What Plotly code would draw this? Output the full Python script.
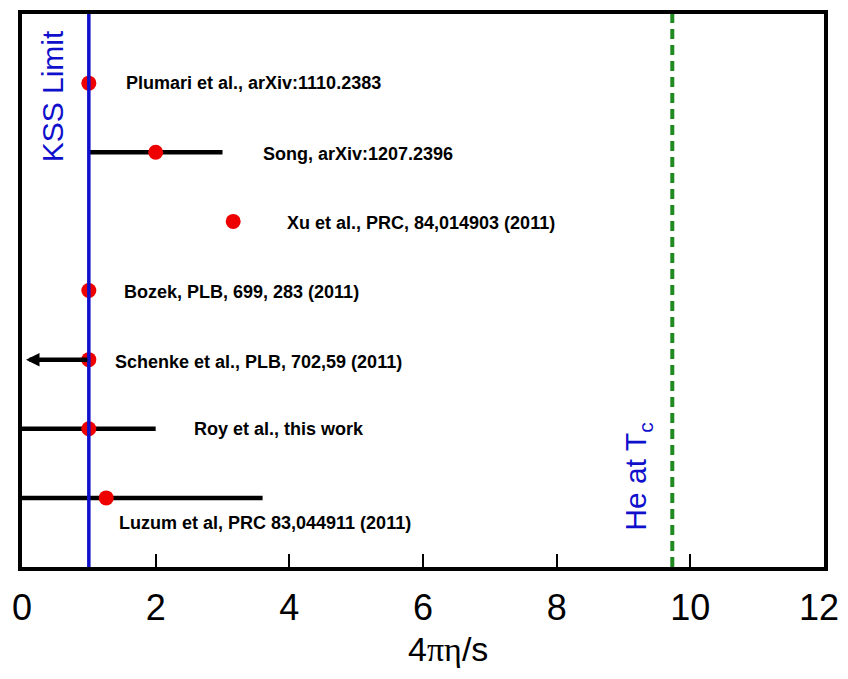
import plotly.graph_objects as go

# ---- data ----
studies = ["Plumari et al., arXiv:1110.2383",
           "Song, arXiv:1207.2396",
           "Xu et al., PRC, 84,014903 (2011)",
           "Bozek, PLB, 699, 283 (2011)",
           "Schenke et al., PLB, 702,59 (2011)",
           "Roy et al., this work",
           "Luzum et al, PRC 83,044911 (2011)"]
row = [7, 6, 5, 4, 3, 2, 1]
eta_s = [1.0, 2.0, 3.16, 1.0, 1.0, 1.0, 1.26]
err_plus = [0, 1.0, 0, 0, 0, 1.0, 2.34]
err_minus = [0, 1.0, 0, 0, 0, 1.0, 1.26]
# Schenke: upper-limit arrow pointing towards 0
arrow_from = 1.0
arrow_to = 0.06
arrow_row = 3
label_x = [1.53, 3.58, 3.94, 1.50, 1.36, 2.55, 1.42]
label_y = [7.0, 5.98, 4.97, 3.98, 2.97, 2.0, 0.64]
KSS_LIMIT = 1.0
HE_TC = 9.73
x_ticks = [0, 2, 4, 6, 8, 10, 12]
x_tick_labels = ["0", "2", "4", "6", "8", "10", "12"]

TICK_FONT = dict(family="Liberation Sans, Arial", size=36, color="black")

fig = go.Figure()

# He at Tc line
fig.add_trace(go.Scatter(x=[HE_TC, HE_TC], y=[0, 8], mode="lines",
                         line=dict(color="#1f8a1f", width=4, dash="10px,6px"),
                         hoverinfo="skip", showlegend=False))

# error bars + points
fig.add_trace(go.Scatter(
    x=eta_s, y=row, mode="markers",
    marker=dict(color="#ee0000", size=15),
    error_x=dict(type="data", array=err_plus, arrayminus=err_minus,
                 color="black", thickness=4.5, width=0, symmetric=False),
    showlegend=False))

# KSS line on top
fig.add_trace(go.Scatter(x=[KSS_LIMIT, KSS_LIMIT], y=[0, 8], mode="lines",
                         line=dict(color="#1010cc", width=3.5),
                         hoverinfo="skip", showlegend=False))

# Schenke arrow
fig.add_annotation(x=arrow_to, y=arrow_row, ax=arrow_from, ay=arrow_row,
                   xref="x", yref="y", axref="x", ayref="y",
                   showarrow=True, arrowhead=2, arrowsize=0.6,
                   arrowwidth=4.5, arrowcolor="black", text="")

for s, lx, ly in zip(studies, label_x, label_y):
    fig.add_annotation(x=lx, y=ly, xref="x", yref="y", text="<b>" + s + "</b>",
                       showarrow=False, xanchor="left", yanchor="middle",
                       font=dict(family="Liberation Sans, Arial", size=18, color="black"))

fig.add_annotation(x=0.45, y=6.81, xref="x", yref="y", text="KSS Limit",
                   textangle=-90, showarrow=False,
                   font=dict(family="Liberation Sans, Arial", size=30, color="#1010cc"))
fig.add_annotation(x=9.21, y=1.3, xref="x", yref="y", text="He at T<sub>c</sub>",
                   textangle=-90, showarrow=False,
                   font=dict(family="Liberation Sans, Arial", size=30, color="#1010cc"))

# last tick label drawn as annotation (axis would hide it at the page edge)
fig.add_annotation(x=x_ticks[-1], y=0, xref="x", yref="paper",
                   text=x_tick_labels[-1], showarrow=False,
                   xanchor="center", yanchor="top", xshift=-5, yshift=-18,
                   font=TICK_FONT)

fig.add_annotation(x=0.531, y=-0.187, xref="paper", yref="paper",
                   text="4<span style='font-family:Liberation Serif'>πη</span>/s",
                   showarrow=False, yanchor="bottom",
                   font=dict(family="Liberation Sans, Arial", size=34, color="black"))

fig.update_layout(
    width=832, height=663,
    margin=dict(l=14, r=16, t=2, b=104),
    paper_bgcolor="white", plot_bgcolor="white",
    xaxis=dict(range=[0, 12], tickvals=x_ticks,
               ticktext=x_tick_labels[:-1] + [""],
               ticks="inside", ticklen=13,
               tickwidth=1.5, tickcolor="black", showgrid=False, zeroline=False,
               showline=True, linecolor="black", linewidth=4, mirror=True,
               ticklabelstandoff=6,
               tickfont=TICK_FONT),
    yaxis=dict(range=[0, 8], showticklabels=False, ticks="", showgrid=False,
               zeroline=False, showline=True, linecolor="black", linewidth=4,
               mirror=True),
)

fig.write_html("out.html")
